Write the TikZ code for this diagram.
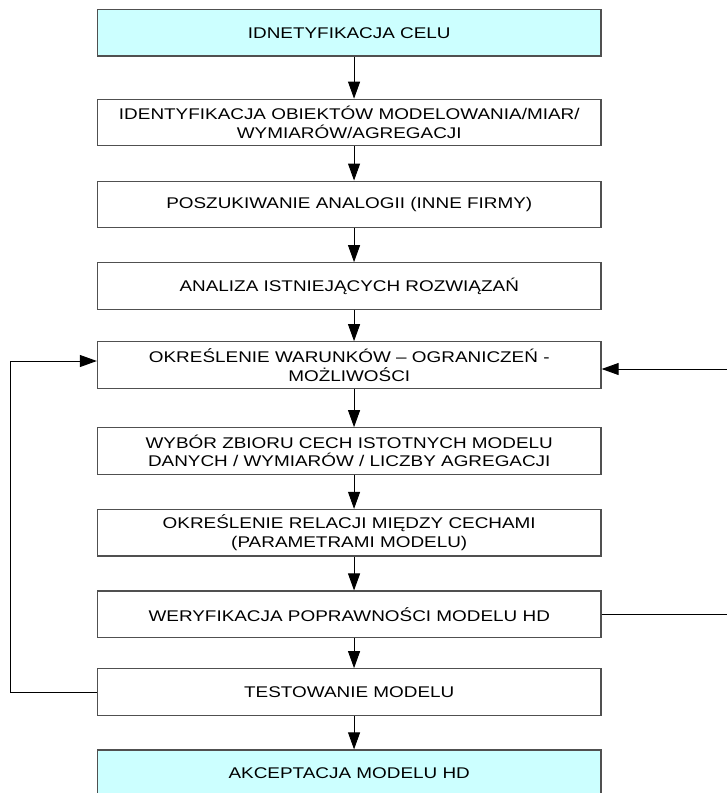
\documentclass[tikz,border=0pt]{standalone}
\usepackage{fontspec}
\setmainfont{Liberation Sans}[FakeStretch=1.22]
\usetikzlibrary{arrows.meta}
\definecolor{boxline}{RGB}{80,80,80}
\definecolor{startfill}{RGB}{204,255,255}
\tikzset{
  stepbox/.style={draw=boxline, line width=1.3pt, fill=white,
    minimum width=503.5pt, minimum height=46.4pt, inner sep=0pt,
    align=center, font=\fontsize{15.5}{18.5}\selectfont},
  endbox/.style={stepbox, fill=startfill},
  flow/.style={draw=black, line width=0.9pt,
    -{Triangle[length=17pt, width=12pt]}}
}
\begin{document}
\begin{tikzpicture}[x=1pt, y=-1pt]
  \useasboundingbox (0,0) rectangle (727,793);
  \clip (0,0) rectangle (727,793);

  % process steps
  \node[endbox]  (b1)  at (349.25, 32.9)  {IDNETYFIKACJA CELU};
  \node[stepbox] (b2)  at (349.25, 122.5) {IDENTYFIKACJA OBIEKTÓW MODELOWANIA/MIAR/\\WYMIARÓW/AGREGACJI};
  \node[stepbox] (b3)  at (349.25, 204.4) {POSZUKIWANIE ANALOGII (INNE FIRMY)};
  \node[stepbox] (b4)  at (349.25, 286.0) {ANALIZA ISTNIEJĄCYCH ROZWIĄZAŃ};
  \node[stepbox] (b5)  at (349.25, 365.0) {OKREŚLENIE WARUNKÓW – OGRANICZEŃ -\\MOŻLIWOŚCI};
  \node[stepbox] (b6)  at (349.25, 451.0) {WYBÓR ZBIORU CECH ISTOTNYCH MODELU\\DANYCH / WYMIARÓW / LICZBY AGREGACJI};
  \node[stepbox] (b7)  at (349.25, 532.7) {OKREŚLENIE RELACJI MIĘDZY CECHAMI\\(PARAMETRAMI MODELU)};
  \node[stepbox] (b8)  at (349.25, 614.3) {WERYFIKACJA POPRAWNOŚCI MODELU HD};
  \node[stepbox] (b9)  at (349.25, 692.0) {TESTOWANIE MODELU};
  \node[endbox]  (b10) at (349.25, 773.2) {AKCEPTACJA MODELU HD};

  % main flow
  \foreach \a/\b in {b1/b2, b2/b3, b3/b4, b4/b5, b5/b6, b6/b7, b7/b8, b8/b9, b9/b10}
    \draw[flow] ([xshift=4.8pt]\a.south) -- ([xshift=4.8pt]\b.north);

  % feedback from testing
  \draw[flow] (b9.west) -- ++(-86.5,0) |- ([yshift=4pt]b5.west);

  % feedback from verification (runs off the right edge)
  \draw[flow] (b8.east) -- ++(160,0) |- ([yshift=-4pt]b5.east);
\end{tikzpicture}
\end{document}
